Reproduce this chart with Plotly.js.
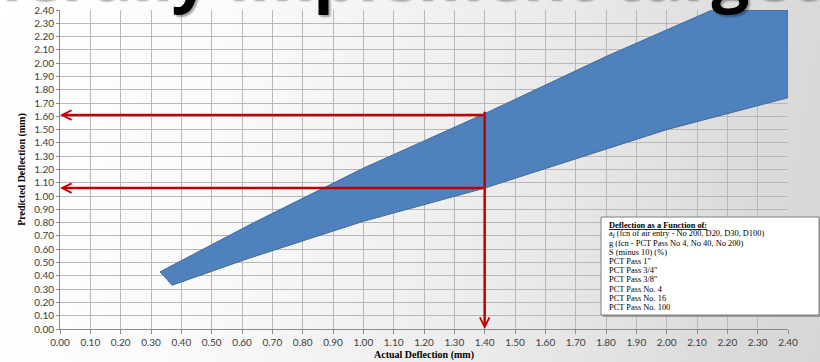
<!DOCTYPE html>
<html>
<head>
<meta charset="utf-8">
<script src="https://cdn.plot.ly/plotly-3.0.1.min.js"></script>
<style>
  html, body { margin: 0; padding: 0; }
  body { width: 820px; height: 362px; overflow: hidden;
    background: linear-gradient(100deg, #ffffff 0%, #fbfbfb 25%, #ececec 60%, #dadada 90%, #d6d6d6 100%); }
  #chart { width: 820px; height: 362px; }
</style>
</head>
<body>
<div id="chart"></div>
<script>
// Upper boundary of the prediction band (actual, predicted)
const upperX = [0.33, 0.63, 1.00, 1.40, 1.80, 2.00, 2.15, 2.40];
const upperY = [0.43, 0.79, 1.21, 1.62, 2.05, 2.25, 2.40, 2.40];
// Lower boundary of the prediction band
const lowerX = [0.37, 0.62, 1.00, 1.40, 2.00, 2.40];
const lowerY = [0.33, 0.53, 0.81, 1.06, 1.50, 1.74];

// Read-off example
const readActual = 1.40;
const readPredicted = [1.61, 1.06];
const readTop = 1.645;

const titleText = "Generally implement target values";
const xTitle = "Actual Deflection (mm)";
const yTitle = "Predicted Deflection (mm)";
const noteLines = [
  "<b><u>Deflection as a Function of:</u></b>",
  "a<sub>f</sub> (fcn of air entry - No 200, D20, D30, D100)",
  "g (fcn - PCT Pass No 4, No 40, No 200)",
  "S (minus 10) (%)",
  "PCT Pass 1\"",
  "PCT Pass 3/4\"",
  "PCT Pass 3/8\"",
  "PCT Pass No. 4",
  "PCT Pass No. 16",
  "PCT Pass No. 100"
];

const polyX = upperX.concat(lowerX.slice().reverse(), [upperX[0]]);
const polyY = upperY.concat(lowerY.slice().reverse(), [upperY[0]]);

const band = {
  x: polyX, y: polyY, type: 'scatter', mode: 'lines',
  fill: 'toself', fillcolor: '#4F81BD',
  line: { color: '#3F6A9C', width: 1 },
  hoverinfo: 'skip', showlegend: false
};

// geometry helpers (plot area: 60..788 px, 10..329 px)
const L = 60, R = 32, T = 10, B = 33, W = 820 - L - R, H = 362 - T - B;
const px = v => (v - L) / W;
const py = v => (362 - B - v) / H;

const annotations = [];
// red arrows
readPredicted.forEach(p => {
  annotations.push({ x: 0, y: p, ax: readActual, ay: p, xref: 'x', yref: 'y', axref: 'x', ayref: 'y',
    text: '', showarrow: true, arrowhead: 5, arrowsize: 0.75, arrowwidth: 2.5, arrowcolor: '#C00000', standoff: 0 });
});
annotations.push({ x: readActual, y: 0, ax: readActual, ay: readTop, xref: 'x', yref: 'y', axref: 'x', ayref: 'y',
  text: '', showarrow: true, arrowhead: 5, arrowsize: 0.75, arrowwidth: 2.5, arrowcolor: '#C00000', standoff: 0 });

// note box text
noteLines.forEach((t, i) => {
  annotations.push({ x: px(607), y: py(225 + i * 9.15), xref: 'paper', yref: 'paper', xanchor: 'left', yanchor: 'middle',
    text: t, showarrow: false, align: 'left',
    font: { family: 'Liberation Serif, Times New Roman, serif', size: 8.4, color: '#000000' } });
});

// big slide title (cut off at top)
annotations.push({ x: px(-114), y: py(21), xref: 'paper', yref: 'paper', xanchor: 'left', yanchor: 'bottom',
  text: '<b>' + titleText + '</b>', showarrow: false,
  font: { family: 'Open Sans, sans-serif', size: 67, color: '#000000', shadow: '2px 2px 2px rgba(0,0,0,0.35)' } });

const shapes = [
  { type: 'rect', xref: 'paper', yref: 'paper', x0: px(603), x1: px(821), y0: py(317), y1: py(219),
    fillcolor: '#9a9a9a', line: { width: 0 }, layer: 'above' },
  { type: 'rect', xref: 'paper', yref: 'paper', x0: px(601), x1: px(819), y0: py(315), y1: py(217),
    fillcolor: '#ffffff', line: { color: '#7f7f7f', width: 1 }, layer: 'above' }
];

const tickFont = { family: 'Lato, Open Sans, sans-serif', size: 10, color: '#404040' };
const axTitleFont = { family: 'Liberation Serif, Times New Roman, serif', size: 10, color: '#000000' };

const layout = {
  width: 820, height: 362,
  margin: { l: L, r: R, t: T, b: B, pad: 0 },
  paper_bgcolor: 'rgba(0,0,0,0)', plot_bgcolor: 'rgba(0,0,0,0)',
  showlegend: false,
  xaxis: {
    range: [0, 2.4], dtick: 0.1, tick0: 0, tickformat: '.2f',
    showgrid: true, gridcolor: '#b8b8b8', gridwidth: 1,
    showline: true, linecolor: '#8c8c8c', linewidth: 1, mirror: false,
    ticks: 'outside', ticklen: 4, tickcolor: '#8c8c8c',
    tickfont: tickFont, zeroline: false, fixedrange: true,
    title: { text: '<b>' + xTitle + '</b>', font: axTitleFont, standoff: 3 }
  },
  yaxis: {
    range: [0, 2.4], dtick: 0.1, tick0: 0, tickformat: '.2f',
    showgrid: true, gridcolor: '#b8b8b8', gridwidth: 1,
    showline: true, linecolor: '#8c8c8c', linewidth: 1,
    ticks: 'outside', ticklen: 3, tickcolor: '#8c8c8c',
    tickfont: tickFont, zeroline: false, fixedrange: true,
    title: { text: '<b>' + yTitle + '</b>', font: axTitleFont, standoff: 6 }
  },
  annotations: annotations,
  shapes: shapes
};

Plotly.newPlot('chart', [band], layout, { displayModeBar: false, staticPlot: true });
</script>
</body>
</html>
